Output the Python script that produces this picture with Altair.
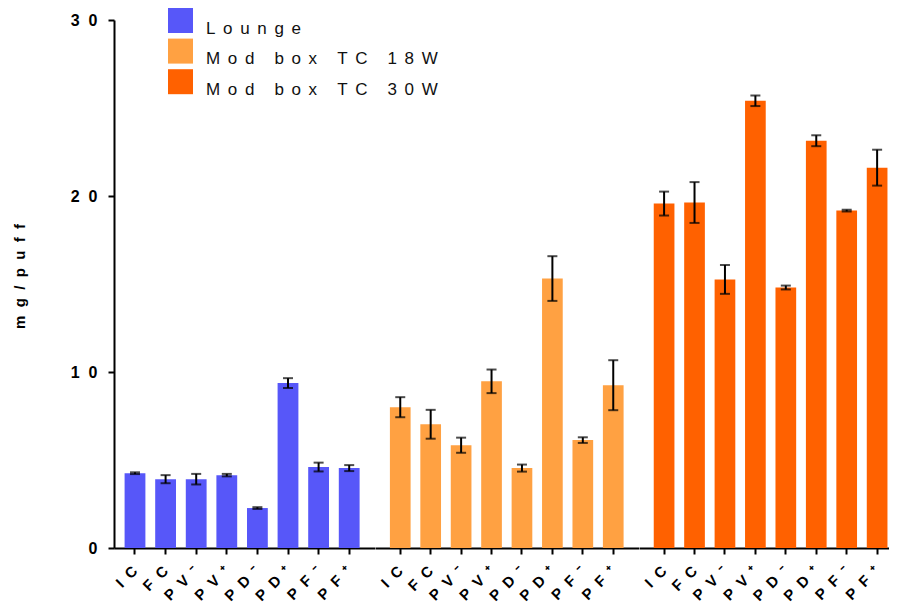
import altair as alt
import pandas as pd

# ---- data ----
groups = ["Lounge", "Mod box TC 18W", "Mod box TC 30W"]
colors = ["#5757F9", "#FFA142", "#FF6100"]
categories = ["IC", "FC", "PV⁻", "PV⁺", "PD⁻", "PD⁺", "PF⁻", "PF⁺"]

lounge_mean = [4.25, 3.91, 3.91, 4.14, 2.27, 9.37, 4.60, 4.54]
lounge_sd = [0.05, 0.23, 0.30, 0.07, 0.05, 0.28, 0.25, 0.17]
tc18_mean = [8.00, 7.03, 5.84, 9.47, 4.54, 15.31, 6.13, 9.25]
tc18_sd = [0.57, 0.82, 0.43, 0.67, 0.20, 1.27, 0.16, 1.42]
tc30_mean = [19.57, 19.63, 15.26, 25.41, 14.80, 23.14, 19.17, 21.61]
tc30_sd = [0.68, 1.16, 0.82, 0.30, 0.11, 0.31, 0.05, 1.02]

y_ticks = [0, 10, 20, 30]
y_title = "mg/puff"

LEG_SP = "\u2005\u2009"  # letter spacing (legend)
FIG = "\u2007"           # letter spacing (axes)


def spaced(s, sep):
    return sep.join(s)


group_disp = [spaced(g, LEG_SP) for g in groups]
cat_disp = [spaced(c, FIG) for c in categories]

rows = []
for g, means, sds in zip(group_disp, [lounge_mean, tc18_mean, tc30_mean],
                         [lounge_sd, tc18_sd, tc30_sd]):
    for c, m, s in zip(cat_disp, means, sds):
        rows.append({"group": g, "cat": c, "mean": m, "sd": s})
df = pd.DataFrame(rows)

FONT = "Liberation Sans"
H = 528
layout = [(260.6, 0.418, 0.414), (263.5, 0.49, 0.5), (258.8, 0.412, 0.588)]

y_axis = alt.Axis(
    values=y_ticks,
    labelExpr=f"datum.value === 0 ? '0' : format(datum.value / 10, 'd') + '{FIG}0'",
    labelFont=FONT, labelFontSize=16, labelFontWeight="bold", labelColor="black",
    labelPadding=11, tickSize=6, tickWidth=2, tickColor="black",
    domainColor="black", domainWidth=2, grid=False,
    titleFont=FONT, titleFontSize=15, titleFontWeight="bold", titleColor="black",
    titleX=-95, titleY=256, titleAngle=270, titleAlign="center", titleBaseline="middle",
)


def panel(i):
    w, po, al = layout[i]
    x_enc = alt.X(
        "cat:N", sort=cat_disp, title=None,
        scale=alt.Scale(paddingInner=0.32, paddingOuter=po, align=al),
        axis=alt.Axis(
            labelAngle=315, labelAlign="right", labelBaseline="middle",
            labelFont=FONT, labelFontSize=15, labelFontWeight="bold", labelColor="black",
            labelPadding=14, labelOverlap=False, tickSize=6, tickWidth=2, tickColor="black",
            domainColor="black", domainWidth=2, grid=False,
        ),
    )

    def y_enc(field):
        return alt.Y(field, title=spaced(y_title, FIG),
                     scale=alt.Scale(domain=[0, 30], nice=False),
                     axis=y_axis if i == 0 else None)

    legend = None
    if i == 0:
        legend = alt.Legend(
            orient="none", legendX=54, legendY=-12, title=None,
            symbolType="square", symbolSize=625, symbolStrokeWidth=0,
            labelFont=FONT, labelFontSize=17, labelColor="#111111",
            labelOffset=13, labelLimit=500, rowPadding=1.6, padding=0,
            labelBaseline="top",
        )
    base = alt.Chart(df).transform_filter(alt.datum.group == group_disp[i]).transform_calculate(
        lo="datum.mean - datum.sd", hi="datum.mean + datum.sd"
    )
    bars = base.mark_bar().encode(
        x=x_enc, y=y_enc("mean:Q"),
        color=alt.Color("group:N", scale=alt.Scale(domain=group_disp, range=colors), legend=legend),
    )
    rule = base.mark_rule(color="black", strokeWidth=2).encode(x=x_enc, y=y_enc("lo:Q"), y2="hi:Q")
    cap_lo = base.mark_tick(color="black", size=10, thickness=2).encode(x=x_enc, y=y_enc("lo:Q"))
    cap_hi = base.mark_tick(color="black", size=10, thickness=2).encode(x=x_enc, y=y_enc("hi:Q"))
    return alt.layer(bars, rule, cap_lo, cap_hi).properties(width=w, height=H)


chart = alt.hconcat(panel(0), panel(1), panel(2), spacing=0, bounds="flush").resolve_scale(
    color="independent"
).resolve_legend(color="independent").properties(
    autosize=alt.AutoSizeParams(type="none"),
    padding={"left": 106, "top": 12, "right": 775, "bottom": 583},
).configure_view(stroke=None)

chart.save("out.html", embed_options={"renderer": "svg", "actions": False})
